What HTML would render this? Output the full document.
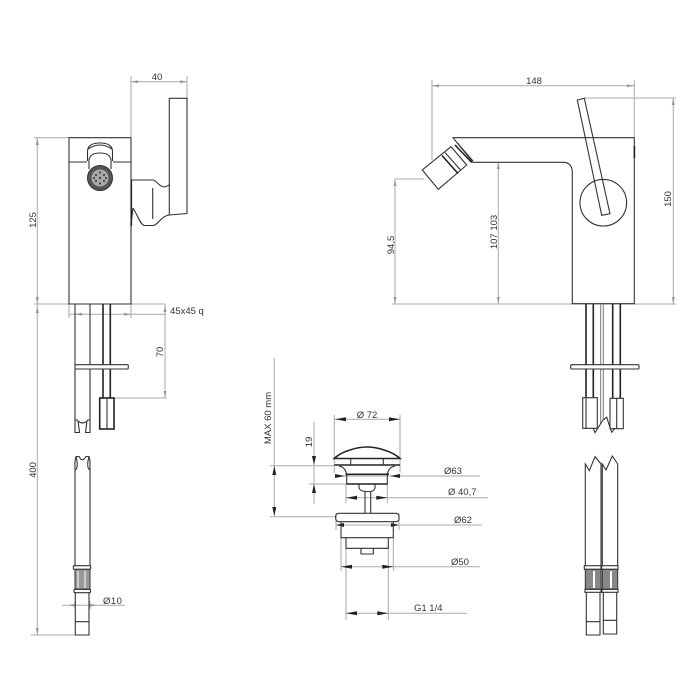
<!DOCTYPE html>
<html><head><meta charset="utf-8"><style>
html,body{margin:0;padding:0;background:#fff}
svg{display:block}
text{font-family:"Liberation Sans",sans-serif;font-size:9.5px;fill:#333}
.d{stroke:#aaa;stroke-width:1;fill:none}
.m{stroke:#333;stroke-width:1.1;fill:none}
.t{stroke:#222;stroke-width:1.6;fill:none}
.g{stroke:#777;stroke-width:1;fill:none}
</style></head><body>
<svg width="700" height="700" viewBox="0 0 700 700" xmlns="http://www.w3.org/2000/svg">
<rect width="700" height="700" fill="#fff"/>
<!-- dims left view -->
<path class="d" d="M34 137.7H69M34 304H165M37.3 138V635M131 76V137M187 76V98M131 81.7H187M69 304V318M131 304V318M69 314.3H166M165 304V398M114 398H167M31 635H75M62 605.3H125M75 601V609M90 601V609"/>
<path fill="#999" d="M131 81.7l7-1.5v3zM187 81.7l-7-1.5v3zM37.3 138l-1.5 7h3zM37.3 304l-1.5-7h3zM37.3 306l-1.5 7h3zM37.3 635l-1.5-7h3zM165 305l-1.5 7h3zM165 398l-1.5-7h3zM75 314.3l7-1.5v3zM131 314.3l-7-1.5v3zM68 605.3l7-1.5v3zM97 605.3l-7-1.5v3z"/>
<!-- left view body -->
<path class="m" d="M69 137.7H131V304H69ZM69 162H87M113 162H131"/>
<path class="m" d="M87.5 161V151Q88 143 100 143T112.5 151V161"/>
<path class="m" d="M88 149Q100 141 112 149"/>
<path class="m" d="M89 169V160Q90 153 100 153T111 160V169"/>
<circle cx="100" cy="178" r="12.5" fill="#555" stroke="#333"/>
<circle cx="100" cy="178" r="8.5" fill="#aaa" stroke="none"/>
<g fill="#444"><circle cx="100" cy="178" r="1.2"/><circle cx="96" cy="175" r="1.1"/><circle cx="104" cy="175" r="1.1"/><circle cx="96" cy="181" r="1.1"/><circle cx="104" cy="181" r="1.1"/><circle cx="100" cy="172.5" r="1.1"/><circle cx="100" cy="183.5" r="1.1"/><circle cx="94" cy="178" r="1.1"/><circle cx="106" cy="178" r="1.1"/></g>
<path class="m" d="M169.3 185V98.3H187V213.5L169.3 215"/>
<path class="m" d="M131.5 180H153.3C157 181 159 187 165 187L169.3 185V215C161 216 158 225 153.3 225.5H144C140 224 137 214 133 208M152.7 188V219M133 208L131 224"/>
<path class="t" d="M131.3 180V226"/>
<!-- left pipes -->
<path class="m" d="M75 304V365M90 304V365M75 369V418M90 369V418"/>
<path class="t" d="M103 304V365M110.3 304V365M103 369V398M110.3 369V398"/>
<rect class="m" x="75" y="364.7" width="53.3" height="4.3" rx="1"/>
<rect class="t" x="99.7" y="398" width="14.3" height="31"/>
<path class="m" d="M107 398V429"/>
<path class="m" d="M75 418V432.5H79.5L78 421Q82.5 425 87 421L85.5 432.5H90V418M75 420L78 420M90 420L87 420"/>
<path class="m" d="M75 469V461L76 456.5H79Q82.5 463 86 456.5H89L90 461V469M75 469V566M90 469V566M76 456.5Q79 468 75 470M89 456.5Q86 468 90 470"/>
<rect class="m" x="73.3" y="565.7" width="17.4" height="3.6" rx="1"/>
<rect x="75" y="569.3" width="15" height="20" fill="#999" stroke="#333"/>
<path stroke="#fff" stroke-width="1" d="M78 571V588M85 571V588"/>
<rect class="m" x="74" y="589.3" width="16.5" height="3.4" rx="1"/>
<path class="m" d="M75.3 592.7V635H89V592.7M75.3 621.7H89"/>
<!-- right view -->
<path class="d" d="M432 80V160M634.3 80V137M432 85.7H634M584 98H676M392 304H676M395 179H424M395 179V304M498.3 162V304M673.3 98V304"/>
<path fill="#999" d="M432 85.7l7-1.5v3zM634 85.7l-7-1.5v3zM395 179l-1.5 7h3zM395 304l-1.5-7h3zM498.3 162l-1.5 7h3zM498.3 304l-1.5-7h3zM673.3 98l-1.5 7h3zM673.3 304l-1.5-7h3z"/>
<path class="m" d="M453 137.7H634.3V303.7H572.3V172Q572 162.3 563 162.3H473Z" fill="#fff"/>
<path class="t" d="M634.4 146V158"/>
<path class="m" d="M422.3 170L438.3 189.3L466.7 165L451 146.7Z"/>
<path class="t" d="M442 155.5L458 173.5"/>
<path class="m" d="M445 152.5L461 170.5"/>
<path class="t" d="M455 145L471.7 162.5"/>
<path class="m" d="M457 142.5L473 161"/>
<circle class="m" cx="603.3" cy="202.7" r="23.3"/>
<path fill="#fff" class="m" d="M577.3 100L584.3 98.3L610 213.7L601.7 215.3Z"/>
<!-- right pipes -->
<path class="t" d="M586 304V365M593.3 304V365M612.7 304V365M620.3 304V365M586 369V398M593.3 369V398M612.7 369V398M620.3 369V398"/>
<path class="g" stroke-width="1" d="M600.7 304V365M603.3 304V365M600.7 369V424M603.3 369V420"/>
<rect class="m" x="570.7" y="364.7" width="68.3" height="4.3" rx="1"/>
<path class="m" d="M582.7 397.7H597.3V428.3H582.7ZM586 397.7V428.3M610 398.3H623.3V428.7H610ZM616.7 398.3V428.7"/>
<path class="m" d="M593.3 428.3L595 432.7L603 420L606.7 417.3L611.7 432.3L615 428.3"/>
<path class="m" d="M585.3 566V464L589.3 470.7L595 456.7L601 464V566M602.3 566V464L606 470L612.3 456L617.7 464V566"/>
<rect class="m" x="584.3" y="565.7" width="16.7" height="3.6"/>
<rect class="m" x="601.7" y="565.7" width="16.3" height="3.6"/>
<rect x="585.3" y="569.3" width="15.7" height="20" fill="#888" stroke="#333"/>
<rect x="602.3" y="569.3" width="15.4" height="20" fill="#888" stroke="#333"/>
<path stroke="#fff" stroke-width="2" d="M594 571V588M611 571V588"/>
<rect class="m" x="585" y="589.3" width="16" height="3"/>
<rect class="m" x="602" y="589.3" width="16" height="3"/>
<path class="m" d="M586.3 592.3V635H600V592.3M586.3 621.7H600M603.3 592.3V634H616.7V592.3M603.3 620.3H616.7"/>
<!-- drain dims -->
<path class="d" d="M334.3 415V473M400 415V473M270 465.7H334M309 484H350M270 516.7H336M274.3 358V516M314 422V504M334 419.3H400M335 476H480M387 497.7H488M346 497.7H387M336 525H482M341 566.7H480M346 613.3H467M346 484V503M387.3 484V503M346 548V620M388.3 548V620M341 537V571M393.3 537V571M336 513V530M399 513V530"/>
<g fill="#222"><path d="M335 419.3l11-2v4zM400 419.3l-11-2v4zM314 465l-2-9h4zM314 484l-2 9h4zM274.3 466l-2 9h4zM274.3 516l-2-9h4zM345 476l-10-2v4zM390 476l10-2v4zM346 497.7l11-2v4zM387.3 497.7l-11-2v4zM336 525l8-2v4zM399 525l-8-2v4zM341 566.7l11-2v4zM393.3 566.7l-11-2v4zM346 613.3l11-2v4zM388.3 613.3l-11-2v4z"/></g>
<!-- drain -->
<path class="t" d="M334.3 458.5Q340 453 350 450Q367 444 384 450Q394 453 400 458.5Z" fill="#fff" stroke-width="1"/>
<path class="m" d="M350.7 459V464.3M383.3 459V464.3"/>
<path class="t" d="M334.3 465H400"/>
<path class="m" d="M339 466Q345 467 346.7 474V484H387.3V474Q389 467 395 466"/>
<path class="t" d="M345.5 474.3H389M346.7 484H387.3"/>
<path class="m" d="M359 484V488Q360 491 365 491.5V513M375 484V488Q374 491 370.7 491.5V513M365 491.5H370.7"/>
<rect class="m" x="335.7" y="513.3" width="63.3" height="8.4" rx="3" fill="#fff"/>
<path class="m" d="M341 521.7V537.7H393.3V521.7M346 537.7V548.3H388.3V537.7M361 548.3V554H373.3V548.3"/>
<!-- labels -->
<text x="157" y="80" text-anchor="middle">40</text>
<text x="170" y="314">45x45 q</text>
<text x="534" y="84" text-anchor="middle">148</text>
<text x="103" y="604" style="letter-spacing:.5px">Ø10</text>
<text x="367" y="418" text-anchor="middle">Ø 72</text>
<text x="444" y="474">Ø63</text>
<text x="448" y="495">Ø 40,7</text>
<text x="454" y="523">Ø62</text>
<text x="451" y="565">Ø50</text>
<text x="414" y="611">G1 1/4</text>
<text transform="translate(36,220) rotate(-90)" text-anchor="middle">125</text>
<text transform="translate(36,470) rotate(-90)" text-anchor="middle">400</text>
<text transform="translate(163,352) rotate(-90)" text-anchor="middle">70</text>
<text transform="translate(394,245) rotate(-90)" text-anchor="middle">94,5</text>
<text transform="translate(497,232) rotate(-90)" text-anchor="middle">107 103</text>
<text transform="translate(671,199) rotate(-90)" text-anchor="middle">150</text>
<text transform="translate(271,418) rotate(-90)" text-anchor="middle">MAX 60 mm</text>
<text transform="translate(312,442) rotate(-90)" text-anchor="middle">19</text>
</svg>
</body></html>
